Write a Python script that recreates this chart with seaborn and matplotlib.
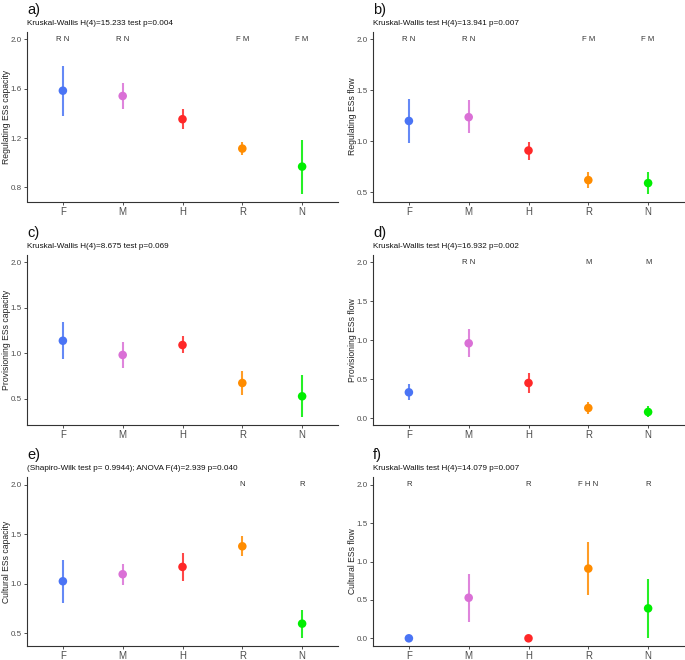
"""
Ecosystem services (ESs) capacity and flow by land-use category.
Six panels: mean +/- error per category with post-hoc letters at y=2.0.
"""

import matplotlib
matplotlib.use("Agg")
import matplotlib.pyplot as plt
import numpy as np
import pandas as pd
import seaborn as sns

# ---------------------------------------------------------------------------
# Data
# ---------------------------------------------------------------------------

categories = ["F", "M", "H", "R", "N"]
palette = ["#4A74F5", "#DA70D6", "#FF2828", "#FF8C00", "#00EE00"]

reg_cap_mean = [1.584, 1.541, 1.353, 1.115, 0.969]
reg_cap_lo   = [1.382, 1.434, 1.272, 1.064, 0.749]
reg_cap_hi   = [1.786, 1.649, 1.439, 1.172, 1.188]
reg_cap_sig  = ["R N", "R N", "", "F M", "F M"]

reg_flow_mean = [1.200, 1.237, 0.910, 0.620, 0.591]
reg_flow_lo   = [0.979, 1.077, 0.819, 0.538, 0.486]
reg_flow_hi   = [1.416, 1.406, 0.998, 0.702, 0.699]
reg_flow_sig  = ["R N", "R N", "", "F M", "F M"]

prov_cap_mean = [1.139, 0.983, 1.092, 0.675, 0.529]
prov_cap_lo   = [0.942, 0.843, 1.004, 0.540, 0.302]
prov_cap_hi   = [1.341, 1.125, 1.191, 0.807, 0.760]
prov_cap_sig  = ["", "", "", "", ""]

prov_flow_mean = [0.333, 0.962, 0.453, 0.132, 0.081]
prov_flow_lo   = [0.239, 0.790, 0.329, 0.059, 0.017]
prov_flow_hi   = [0.436, 1.145, 0.581, 0.209, 0.158]
prov_flow_sig  = ["", "R N", "", "M", "M"]

cult_cap_mean = [1.025, 1.096, 1.170, 1.378, 0.597]
cult_cap_lo   = [0.809, 0.991, 1.028, 1.277, 0.449]
cult_cap_hi   = [1.237, 1.200, 1.311, 1.479, 0.739]
cult_cap_sig  = ["", "", "", "N", "R"]

cult_flow_mean = [0.0, 0.528, 0.0, 0.908, 0.390]
cult_flow_lo   = [0.0, 0.212, 0.0, 0.562, 0.0]
cult_flow_hi   = [0.0, 0.843, 0.0, 1.249, 0.775]
cult_flow_sig  = ["R", "", "R", "F H N", "R"]

ticks_a = [0.8, 1.2, 1.6, 2.0]
ticks_half = [0.5, 1.0, 1.5, 2.0]
ticks_zero = [0.0, 0.5, 1.0, 1.5, 2.0]

panels = [
    ("a)", "Kruskal-Wallis H(4)=15.233 test p=0.004", "Regulating ESs capacity",
     reg_cap_mean, reg_cap_lo, reg_cap_hi, reg_cap_sig, ticks_a),
    ("b)", "Kruskal-Wallis test H(4)=13.941 p=0.007", "Regulating ESs flow",
     reg_flow_mean, reg_flow_lo, reg_flow_hi, reg_flow_sig, ticks_half),
    ("c)", "Kruskal-Wallis H(4)=8.675 test p=0.069", "Provisioning ESs capacity",
     prov_cap_mean, prov_cap_lo, prov_cap_hi, prov_cap_sig, ticks_half),
    ("d)", "Kruskal-Wallis test H(4)=16.932 p=0.002", "Provisioning ESs flow",
     prov_flow_mean, prov_flow_lo, prov_flow_hi, prov_flow_sig, ticks_zero),
    ("e)", "(Shapiro-Wilk test p= 0.9944); ANOVA F(4)=2.939 p=0.040", "Cultural ESs capacity",
     cult_cap_mean, cult_cap_lo, cult_cap_hi, cult_cap_sig, ticks_half),
    ("f)", "Kruskal-Wallis test H(4)=14.079 p=0.007", "Cultural ESs flow",
     cult_flow_mean, cult_flow_lo, cult_flow_hi, cult_flow_sig, ticks_zero),
]

# ---------------------------------------------------------------------------
# Layout (pixels)
# ---------------------------------------------------------------------------

W, H = 685, 660
COLS = [(27, 338), (373, 684)]
ROWS = [(31.6, 201.5), (254.6, 424.7), (477, 646)]

sns.set_theme(style="ticks")
plt.rcParams["font.family"] = ["Liberation Sans", "DejaVu Sans"]

fig = plt.figure(figsize=(W / 100, H / 100), dpi=100)
fig.patch.set_facecolor("white")

for i, (tag, subtitle, ylabel, mean, lo, hi, sig, yticks) in enumerate(panels):
    (x0, x1), (y0, y1) = COLS[i % 2], ROWS[i // 2]
    ax = fig.add_axes([x0 / W, 1 - y1 / H, (x1 - x0) / W, (y1 - y0) / H])

    df = pd.DataFrame({"cat": categories, "pos": np.arange(len(categories)),
                       "mean": mean, "lo": lo, "hi": hi})

    # error bars
    for (_, row), col in zip(df.iterrows(), palette):
        ax.vlines(row["pos"], row["lo"], row["hi"], color=col, lw=1.5,
                  alpha=0.85, zorder=2)
    sns.scatterplot(data=df, x="pos", y="mean", hue="cat", palette=palette,
                    hue_order=categories, s=38, edgecolor="none", legend=False,
                    ax=ax, zorder=3)

    # post-hoc letters
    for p, s in enumerate(sig):
        if s:
            ax.text(p, 2.0, s, ha="center", va="center", fontsize=5.6,
                    color="#333333")

    ymin = min(lo)
    rng = 2.0 - ymin
    ax.set_ylim(ymin - 0.05 * rng, 2.0 + 0.05 * rng)
    ax.set_xlim(-0.6, len(categories) - 0.4)
    ax.set_xticks(np.arange(len(categories)))
    ax.set_xticklabels(categories)
    ax.set_yticks(yticks)
    ax.set_yticklabels([f"{t:.1f}" for t in yticks])

    ax.set_xlabel("")
    ax.set_ylabel(ylabel, fontsize=6.2, color="#222222")
    ax.yaxis.set_label_coords(-0.051, 0.5)
    ax.tick_params(axis="y", labelsize=5.8, colors="#4D4D4D", length=2.5,
                   width=0.6, pad=1.5)
    ax.tick_params(axis="x", labelsize=7.0, colors="#4D4D4D", length=2.5,
                   width=0.6, pad=1.2)
    ax.tick_params(axis="both", color="#333333")
    for side in ("top", "right"):
        ax.spines[side].set_visible(False)
    for side in ("left", "bottom"):
        ax.spines[side].set_color("#333333")
        ax.spines[side].set_linewidth(0.8)

    # panel tag + subtitle
    fig.text(x0 / W, 1 - (y0 - 21.5) / H, tag, fontsize=10.5, va="center",
             ha="left", color="#111111")
    fig.text(x0 / W, 1 - (y0 - 8.5) / H, subtitle, fontsize=5.9, va="center",
             ha="left", color="#111111")

fig.savefig("out.png", dpi=100, facecolor="white")
